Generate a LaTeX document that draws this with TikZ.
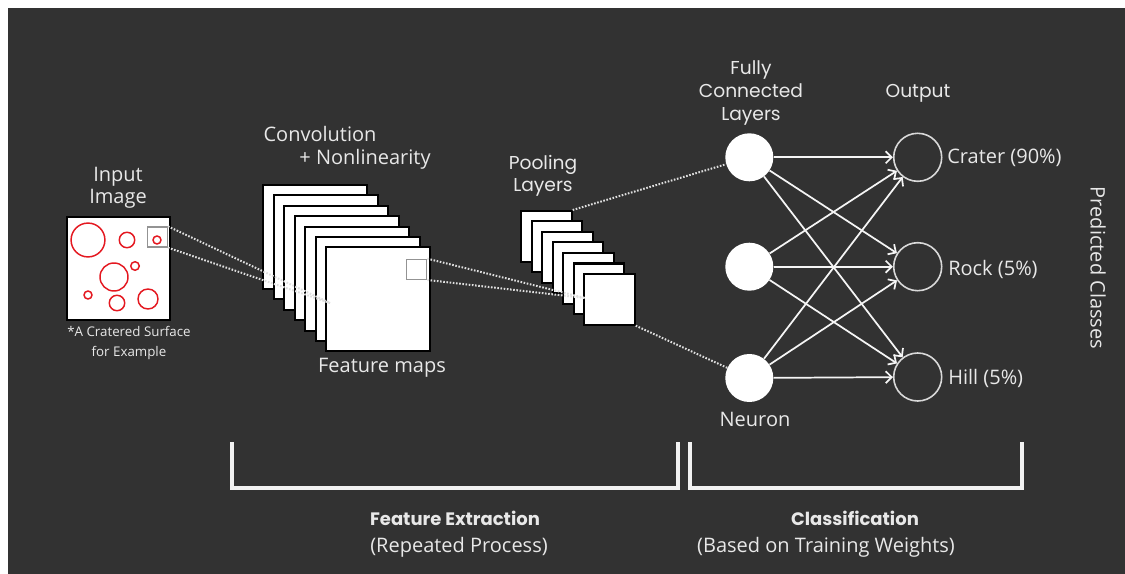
\documentclass[tikz,border=0pt]{standalone}
\usepackage{fontspec}
\setmainfont{Open Sans}
\newfontfamily\headfont{Poppins}
\usetikzlibrary{arrows.meta}

\definecolor{bgdark}{RGB}{50,50,50}
\definecolor{txtlight}{RGB}{232,232,232}
\definecolor{craterred}{RGB}{228,24,32}

\tikzset{
  lbl/.style={text=txtlight, font=\fontsize{15}{16.5}\selectfont, align=center, inner sep=0pt},
  head/.style={text=txtlight, font=\headfont\fontsize{14}{16.5}\selectfont, align=center, inner sep=0pt},
  small/.style={text=txtlight, font=\fontsize{10}{14.6}\selectfont, align=center, inner sep=0pt},
  imgbox/.style={draw=black, fill=white, line width=1.5pt, minimum size=77pt, anchor=north west, inner sep=0pt},
  fmap/.style={draw=black, fill=white, line width=1.5pt, minimum size=78pt, anchor=north west, inner sep=0pt},
  pmap/.style={fmap, minimum size=38pt},
  patch/.style={draw=gray!85, line width=1pt, minimum size=15pt, inner sep=0pt},
  crater/.style={draw=craterred, line width=1.1pt},
  link/.style={draw=gray!25, line width=1.5pt, dash pattern=on 1.2pt off 1.2pt},
  fc/.style={circle, fill=white, minimum size=36pt, inner sep=0pt},
  outn/.style={circle, draw=gray!30, line width=1.2pt, minimum size=36pt, inner sep=0pt},
  wire/.style={draw=gray!8, line width=1.3pt, -{Straight Barb[length=4.5pt,width=9pt]}},
  brace/.style={draw=gray!10, line width=2.4pt},
}

\begin{document}
\begin{tikzpicture}[x=0.75pt, y=-0.75pt]
    % 背景
    \useasboundingbox (0,0) rectangle (1125,574);
    \fill[white] (0,0) rectangle (1125,574);
    \fill[bgdark] (8,8) rectangle (1125,574);

    % 入力画像
    \node[imgbox] (inimg) at (66,216) {};
    \draw[crater] (88,240) circle[radius=12.7pt];
    \draw[crater] (127,240) circle[radius=5.8pt];
    \draw[crater] (157,240) circle[radius=3pt];
    \draw[crater] (114,277) circle[radius=10.5pt];
    \draw[crater] (135,266) circle[radius=3.2pt];
    \draw[crater] (88,295) circle[radius=3pt];
    \draw[crater] (117,303) circle[radius=5.8pt];
    \draw[crater] (148,299) circle[radius=7.5pt];
    \node[patch] (inpatch) at (157.3,237) {};

    % 特徴マップ
    \node[fmap] (fm1) at (262,184) {};
    \node[fmap] (fm2) at (272.5,194.4) {};
    \node[fmap] (fm3) at (283,204.8) {};
    \node[fmap] (fm4) at (293.5,215.2) {};
    \node[fmap] (fm5) at (304,225.6) {};
    \node[fmap] (fm6) at (314.5,236) {};
    \node[fmap] (fm7) at (325,246.4) {};
    \node[patch] (fmpatch) at (416.7,269.3) {};

    \coordinate (cv) at (330,303);
    \draw[link] (inpatch.north east) -- (cv);
    \draw[link] (inpatch.south east) -- (cv);

    % プーリング層
    \node[pmap] (pl1) at (520,210) {};
    \node[pmap] (pl2) at (530.5,220.5) {};
    \node[pmap] (pl3) at (541,231) {};
    \node[pmap] (pl4) at (551.5,241.5) {};
    \node[pmap] (pl5) at (562,252) {};
    \node[pmap] (pl6) at (572.5,262.5) {};
    \node[pmap] (pl7) at (583,273) {};

    \coordinate (pc) at (585,298);
    \draw[link] (fmpatch.north east) -- (pc);
    \draw[link] (fmpatch.south east) -- (pc);

    % 全結合層と出力
    \node[fc] (f1) at (749.3,157.3) {};
    \node[fc] (f2) at (749.3,266.7) {};
    \node[fc] (f3) at (749.3,378) {};
    \node[outn] (o1) at (917.7,157.3) {};
    \node[outn] (o2) at (917.7,266.7) {};
    \node[outn] (o3) at (917.7,377) {};

    \draw[link] (pl1.north east) -- (f1);
    \draw[link] (pl7.south east) -- (f3);

    % エッジ
    \draw[wire] (f1) -- (o1);
    \draw[wire] (f1) -- (o2);
    \draw[wire] (f1) -- (o3);
    \draw[wire] (f2) -- (o1);
    \draw[wire] (f2) -- (o2);
    \draw[wire] (f2) -- (o3);
    \draw[wire] (f3) -- (o1);
    \draw[wire] (f3) -- (o2);
    \draw[wire] (f3) -- (o3);

    % ラベル
    \node[lbl] (tin) at (118,188) {Input\\Image};
    \node[small] (tcr) at (129,343) {*A Cratered Surface\\for Example};
    \node[lbl] (tconv) at (320,134) {Convolution};
    \node[lbl] (tnl) at (365,159) {+ Nonlinearity};
    \node[lbl] (tfm) at (382,368) {Feature maps};
    \node[head] (tpool) at (543,176) {Pooling\\Layers};
    \node[head, font=\headfont\fontsize{14}{17}\selectfont] (tfc) at (751,93) {Fully\\Connected\\Layers};
    \node[head] (tout) at (918,93) {Output};
    \node[lbl, anchor=west] (tc1) at (947,158) {Crater (90\%)};
    \node[lbl, anchor=west] (tc2) at (948,269) {Rock (5\%)};
    \node[lbl, anchor=west] (tc3) at (948,378) {Hill (5\%)};
    \node[lbl] (tneu) at (755,419) {Neuron};
    \node[lbl, rotate=-90] (tpred) at (1098,268) {Predicted Classes};

    % 括弧
    \draw[brace] (232,442) -- (232,488) -- (678,488) -- (678,442);
    \draw[brace] (690,442) -- (690,488) -- (1022,488) -- (1022,442);

    \node[head, font=\headfont\bfseries\fontsize{13.5}{16}\selectfont] (tfe) at (455,518) {Feature Extraction};
    \node[lbl] (trp) at (459,547) {(Repeated Process)};
    \node[head, font=\headfont\bfseries\fontsize{13.5}{16}\selectfont] (tcl) at (855,518) {Classification};
    \node[lbl] (tbw) at (826,547) {(Based on Training Weights)};
\end{tikzpicture}
\end{document}
